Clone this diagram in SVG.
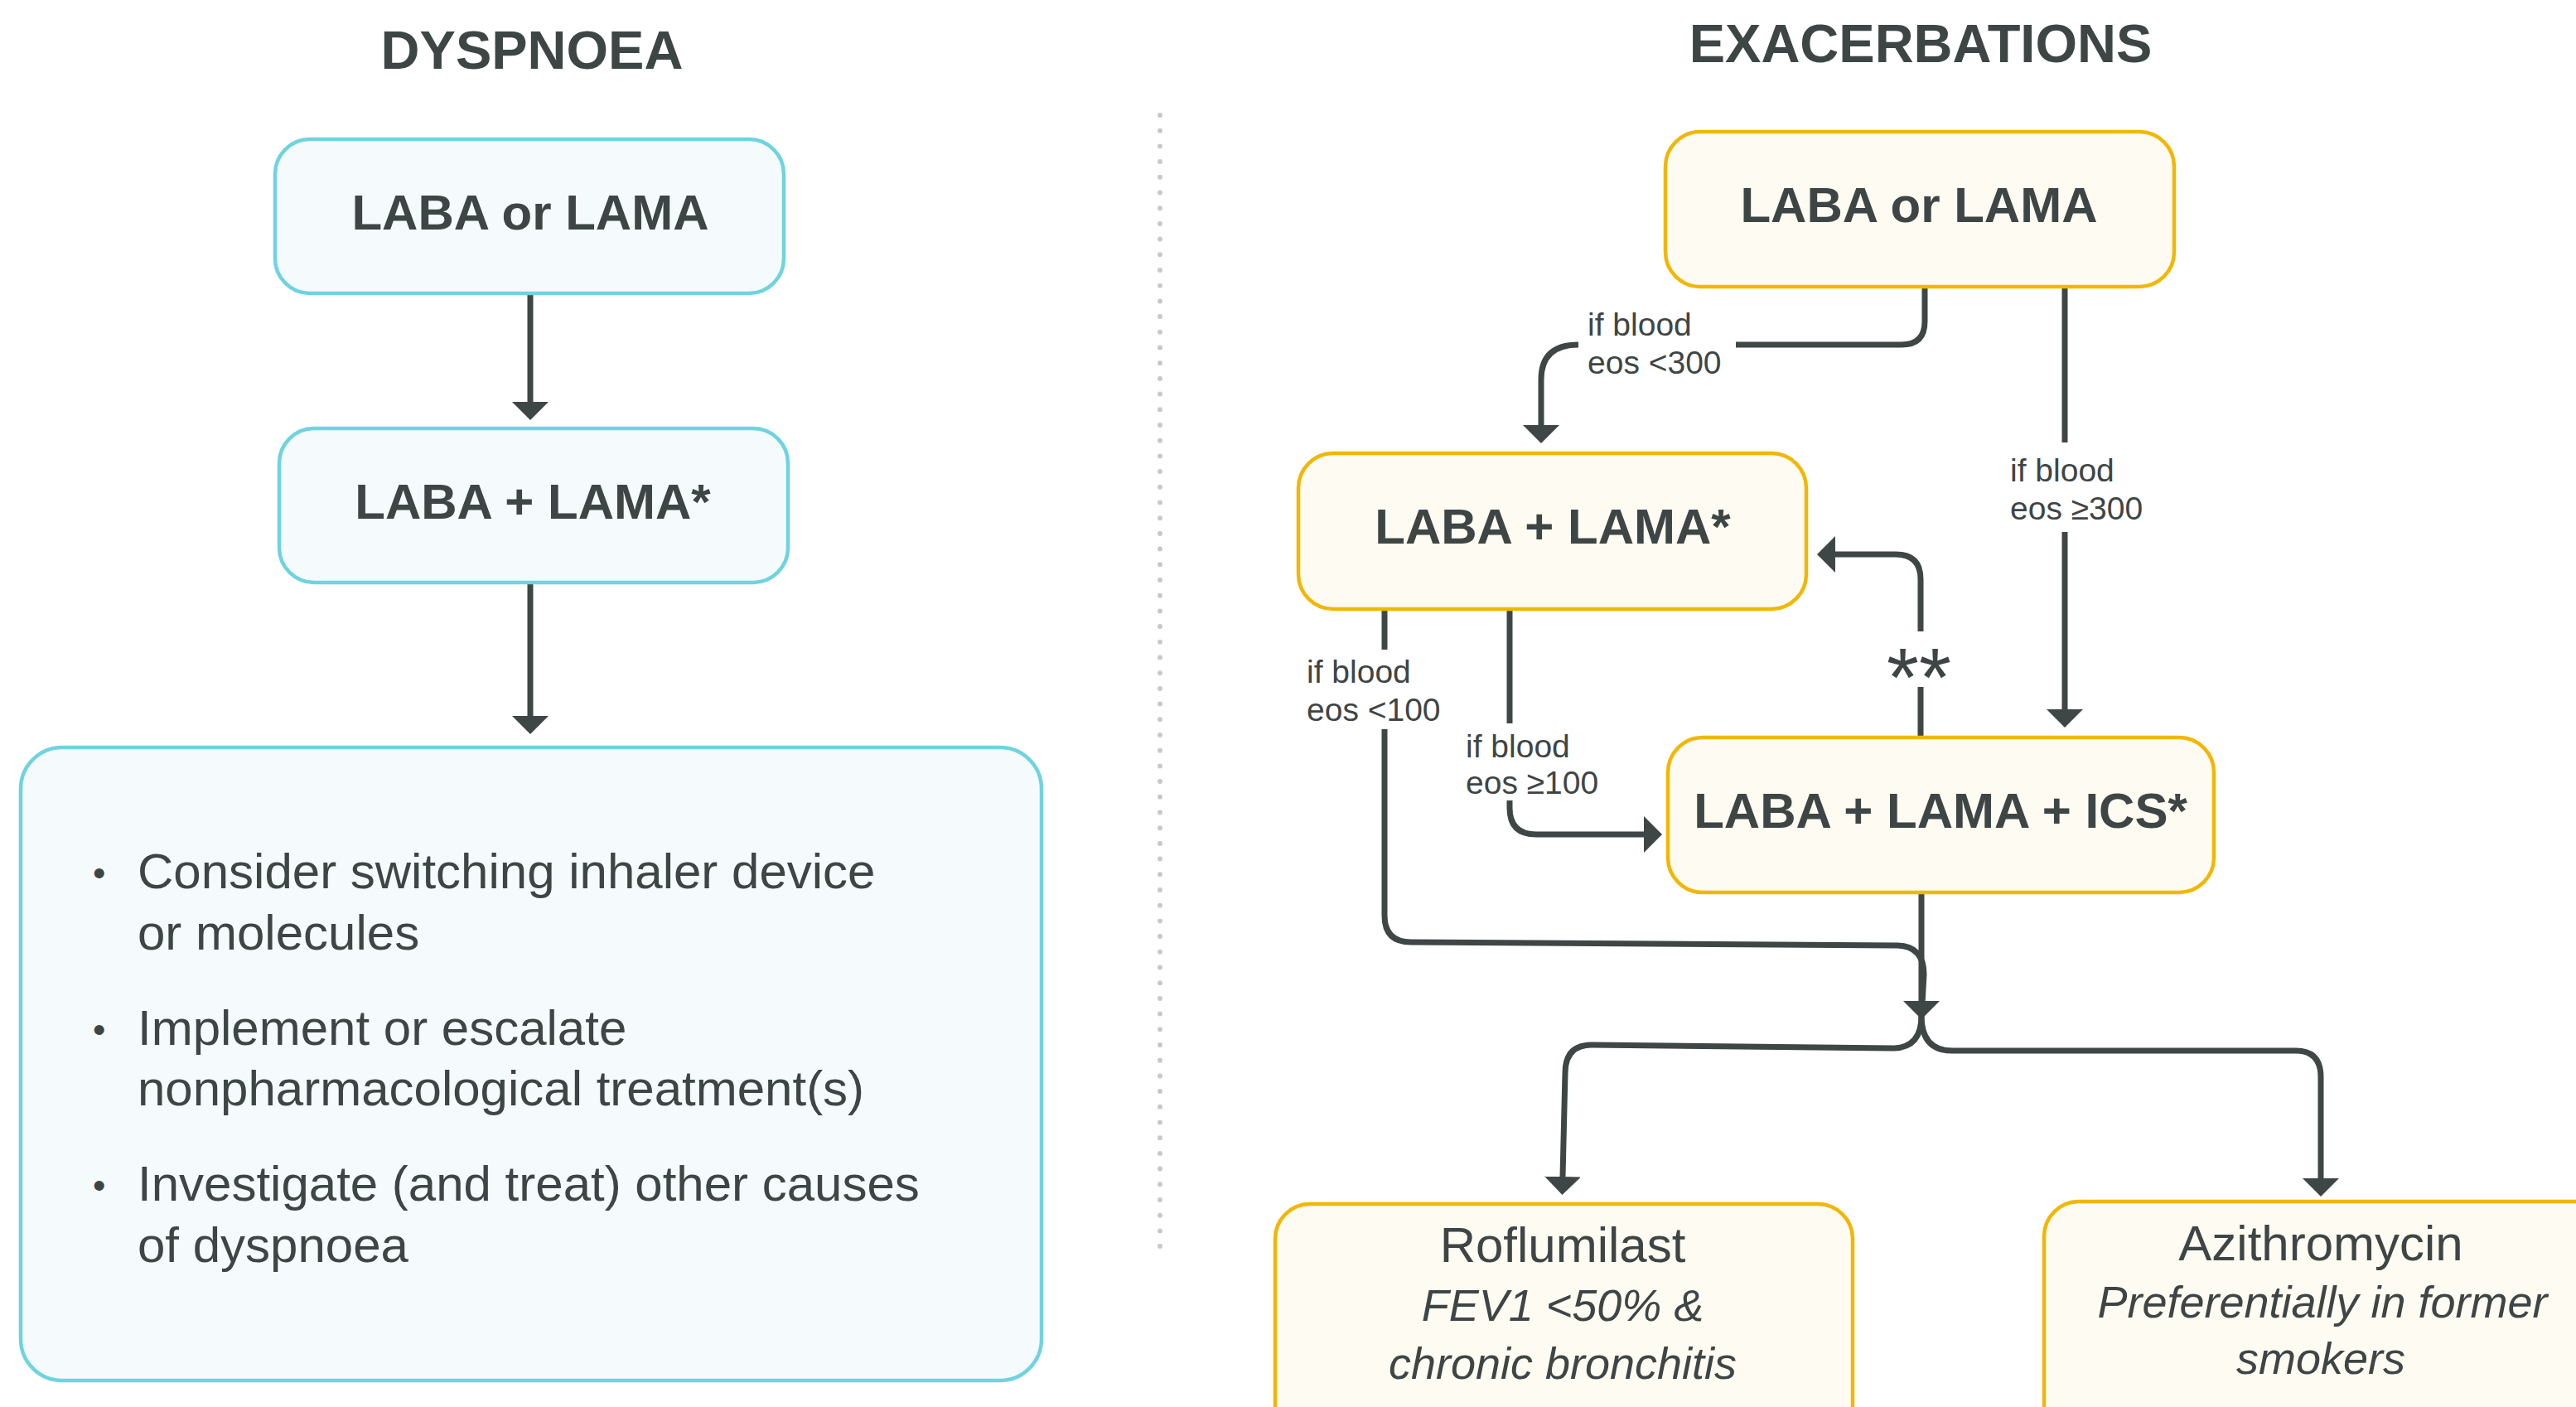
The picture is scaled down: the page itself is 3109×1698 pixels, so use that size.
<svg xmlns="http://www.w3.org/2000/svg" width="3109" height="1698" viewBox="0 0 3109 1698">
  <defs>
    <marker id="arrow" markerUnits="userSpaceOnUse" markerWidth="24" markerHeight="44" refX="0" refY="22" orient="auto">
      <path d="M0,0 L22,22 L0,44 Z" fill="#3F4646"/>
    </marker>
    <style>
      text { font-family: "Liberation Sans", Arial, sans-serif; fill: #3E4545; }
      .title { font-size: 65px; font-weight: bold; text-anchor: middle; }
      .box-cyan { fill: #F5FBFC; stroke: #6FD3E0; stroke-width: 4.5; }
      .box-gold { fill: #FEFBF2; stroke: #F2B705; stroke-width: 4.5; }
      .lbl { font-size: 60px; font-weight: bold; text-anchor: middle; }
      .body { font-size: 60px; }
      .bullet { font-size: 44px; }
      .drug { font-size: 60px; text-anchor: middle; }
      .note { font-size: 54px; font-style: italic; text-anchor: middle; }
      .cond { font-size: 39px; }
      .conn { fill: none; stroke: #3F4646; stroke-width: 7; }
      .arr { marker-end: url(#arrow); }
    </style>
  </defs>

  <rect width="3109" height="1698" fill="#FFFFFF"/>

  <!-- column headings -->
  <text class="title" x="642" y="83">DYSPNOEA</text>
  <text class="title" x="2318" y="75">EXACERBATIONS</text>

  <!-- dotted separator -->
  <line x1="1400" y1="139" x2="1400" y2="1521" stroke="#C9C9C9" stroke-width="6" stroke-linecap="round" stroke-dasharray="0 18.7"/>

  <!-- connectors -->
  <g id="connectors">
    <!-- dyspnoea column -->
    <path class="conn arr" d="M640 354 L640 485"/>
    <path class="conn arr" d="M640 703 L640 864"/>

    <!-- LABA or LAMA -> LABA + LAMA (eos <300) -->
    <path class="conn" d="M2323 346 L2323 388 Q2323 416 2295 416 L2095 416"/>
    <path class="conn arr" d="M1905 416 Q1860 416 1860 458 L1860 513"/>

    <!-- LABA or LAMA -> LABA + LAMA + ICS (eos >=300) -->
    <path class="conn" d="M2492 346 L2492 534"/>
    <path class="conn arr" d="M2492 642 L2492 856"/>

    <!-- LABA + LAMA + ICS -> LABA + LAMA (**) -->
    <path class="conn" d="M2318 890 L2318 829"/>
    <path class="conn arr" d="M2318 762 L2318 699 Q2318 669 2288 669 L2215 669"/>

    <!-- LABA + LAMA -> LABA + LAMA + ICS (eos >=100) -->
    <path class="conn" d="M1822 735 L1822 873"/>
    <path class="conn arr" d="M1822 966 L1822 975 Q1822 1007 1854 1007 L1984 1007"/>

    <!-- LABA + LAMA -> merge (eos <100) -->
    <path class="conn" d="M1671 735 L1671 784"/>
    <path class="conn" d="M1671 880 L1671 1105 Q1671 1137 1703 1137 L2290 1141 Q2322 1142 2322 1176 L2320 1212"/>

    <!-- LABA + LAMA + ICS -> merge -->
    <path class="conn arr" d="M2319 1077 L2319 1208"/>

    <!-- split towards add-on therapies -->
    <path class="conn arr" d="M2319 1226 Q2319 1265 2284 1265 L1921 1261 Q1889 1261 1889 1295 L1886 1420"/>
    <path class="conn arr" d="M2319 1226 Q2319 1268 2356 1268 L2771 1268 Q2801 1268 2801 1300 L2801 1422"/>
  </g>

  <!-- connector labels -->
  <g id="labels">
    <text class="cond" x="1916" y="405">if blood</text>
    <text class="cond" x="1916" y="451">eos &lt;300</text>
    <text class="cond" x="2426" y="581">if blood</text>
    <text class="cond" x="2426" y="627">eos ≥300</text>
    <text class="cond" x="1577" y="824">if blood</text>
    <text class="cond" x="1577" y="870">eos &lt;100</text>
    <text class="cond" x="1769" y="914">if blood</text>
    <text class="cond" x="1769" y="958">eos ≥100</text>
    <text x="2316" y="852" font-size="100" text-anchor="middle">**</text>
  </g>

  <!-- dyspnoea nodes -->
  <g id="dys-laba-or-lama">
    <rect class="box-cyan" x="332" y="168" width="614" height="186" rx="42"/>
    <text class="lbl" x="640" y="277">LABA or LAMA</text>
  </g>
  <g id="dys-laba-lama">
    <rect class="box-cyan" x="337" y="517" width="614" height="186" rx="42"/>
    <text class="lbl" x="643" y="626">LABA + LAMA*</text>
  </g>
  <g id="dys-actions">
    <rect class="box-cyan" x="25" y="902" width="1232" height="764" rx="50"/>
    <text class="bullet" x="112" y="1069">•</text>
    <text class="body" x="166" y="1072">Consider switching inhaler device</text>
    <text class="body" x="166" y="1146">or molecules</text>
    <text class="bullet" x="112" y="1258">•</text>
    <text class="body" x="166" y="1261">Implement or escalate</text>
    <text class="body" x="166" y="1334">nonpharmacological treatment(s)</text>
    <text class="bullet" x="112" y="1446">•</text>
    <text class="body" x="166" y="1449">Investigate (and treat) other causes</text>
    <text class="body" x="166" y="1523">of dyspnoea</text>
  </g>

  <!-- exacerbation nodes -->
  <g id="exa-laba-or-lama">
    <rect class="box-gold" x="2010" y="159" width="614" height="187" rx="42"/>
    <text class="lbl" x="2316" y="268">LABA or LAMA</text>
  </g>
  <g id="exa-laba-lama">
    <rect class="box-gold" x="1567" y="547" width="613" height="188" rx="42"/>
    <text class="lbl" x="1874" y="656">LABA + LAMA*</text>
  </g>
  <g id="exa-laba-lama-ics">
    <rect class="box-gold" x="2013" y="890" width="659" height="187" rx="42"/>
    <text class="lbl" x="2342" y="999">LABA + LAMA + ICS*</text>
  </g>
  <g id="exa-roflumilast">
    <rect class="box-gold" x="1539" y="1453" width="697" height="320" rx="42"/>
    <text class="drug" x="1886" y="1523">Roflumilast</text>
    <text class="note" x="1886" y="1594">FEV1 &lt;50% &amp;</text>
    <text class="note" x="1886" y="1664">chronic bronchitis</text>
  </g>
  <g id="exa-azithromycin">
    <rect class="box-gold" x="2467" y="1450" width="720" height="320" rx="42"/>
    <text class="drug" x="2801" y="1521">Azithromycin</text>
    <text class="note" x="2803" y="1590">Preferentially in former</text>
    <text class="note" x="2801" y="1658">smokers</text>
  </g>
</svg>
